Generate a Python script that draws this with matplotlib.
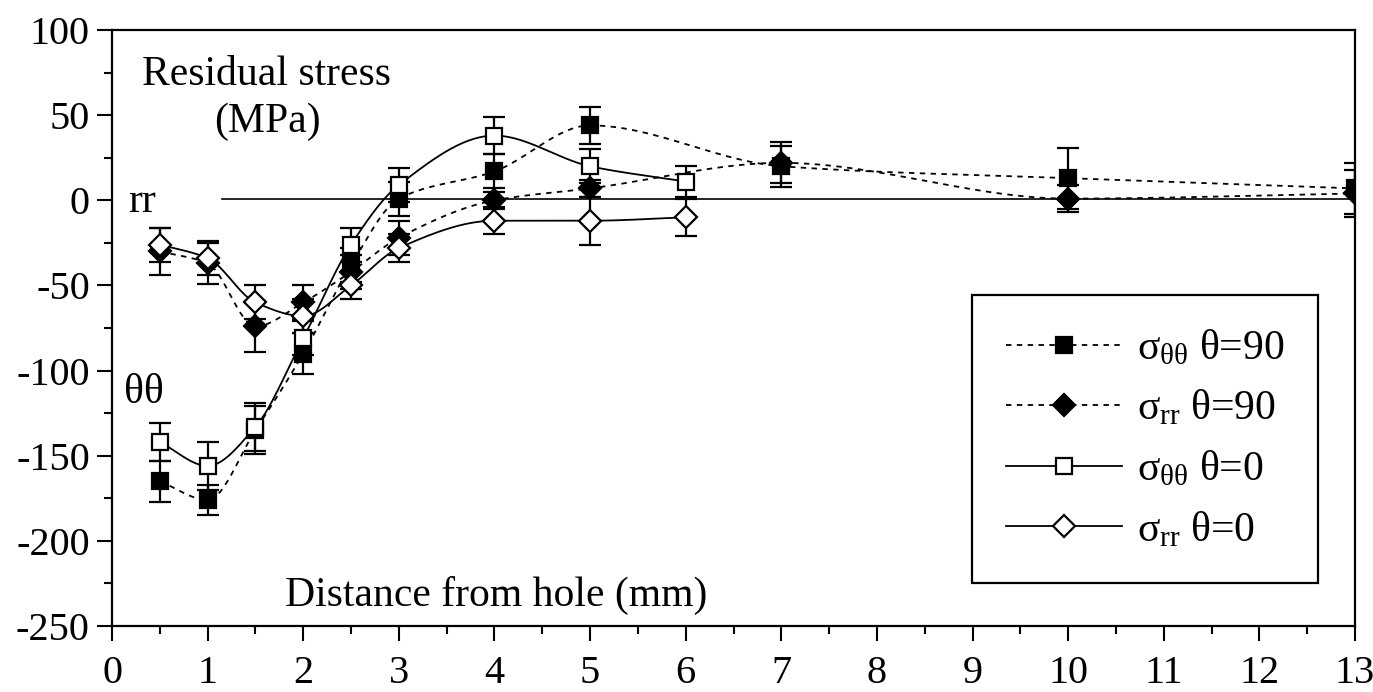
import numpy as np
import matplotlib
matplotlib.use("Agg")
import matplotlib.pyplot as plt
from matplotlib.lines import Line2D
from matplotlib.ticker import MultipleLocator

plt.rcParams['font.family'] = ['Liberation Serif', 'DejaVu Serif']
plt.rcParams['mathtext.fontset'] = 'custom'
plt.rcParams['mathtext.rm'] = 'Liberation Serif'
plt.rcParams['mathtext.it'] = 'Liberation Serif:italic'
plt.rcParams['axes.unicode_minus'] = False

# distance from hole (mm)
x90 = [0.5, 1, 1.5, 2, 2.5, 3, 4, 5, 7, 10, 13]
x0 = [0.5, 1, 1.5, 2, 2.5, 3, 4, 5, 6]

# residual stress (MPa) and error bars
tt90 = [-165, -176, -135, -90, -38, 1, 17, 44, 20, 13, 7]
tt90_err = [12, 9, 14, 12, 10, 10, 10, 11, 12, 18, 15]
rr90 = [-30, -37, -74, -60, -42, -22, 0, 7, 22, 1, 4]
rr90_err = [14, 12, 15, 10, 10, 10, 5, 5, 12, 8, 14]
tt0 = [-142, -156, -133, -81, -26, 9, 38, 20, 11]
tt0_err = [11, 14, 14, 10, 10, 10, 11, 10, 9]
rr0 = [-26, -34, -60, -68, -50, -28, -12, -12, -10]
rr0_err = [10, 10, 10, 10, 8, 8, 8, 14, 11]

labels = [r'$\mathrm{σ}_{\mathrm{θθ}}$ θ=90', r'$\mathrm{σ}_{\mathrm{rr}}$ θ=90',
          r'$\mathrm{σ}_{\mathrm{θθ}}$ θ=0', r'$\mathrm{σ}_{\mathrm{rr}}$ θ=0']


def smooth(x, y, n=300):
    # monotone cubic (pchip) curve through the points
    x = np.asarray(x, float)
    y = np.asarray(y, float)
    h = np.diff(x)
    delta = np.diff(y) / h
    m = np.zeros(len(x))
    m[0] = delta[0]
    m[-1] = delta[-1]
    for k in range(1, len(x) - 1):
        if delta[k - 1] * delta[k] > 0:
            w1 = 2 * h[k] + h[k - 1]
            w2 = h[k] + 2 * h[k - 1]
            m[k] = (w1 + w2) / (w1 / delta[k - 1] + w2 / delta[k])
    xs = np.linspace(x[0], x[-1], n)
    i = np.clip(np.searchsorted(x, xs) - 1, 0, len(x) - 2)
    t = (xs - x[i]) / h[i]
    h00 = 2 * t ** 3 - 3 * t ** 2 + 1
    h10 = t ** 3 - 2 * t ** 2 + t
    h01 = -2 * t ** 3 + 3 * t ** 2
    h11 = t ** 3 - t ** 2
    ys = h00 * y[i] + h10 * h[i] * m[i] + h01 * y[i + 1] + h11 * h[i] * m[i + 1]
    return xs, ys


fig = plt.figure(figsize=(13.73, 6.92), dpi=100)
ax = fig.add_axes([0.0816, 0.0954, 0.9053, 0.8612])

ax.plot([1.15, 13], [1, 1], color='black', lw=1.2)

series = [
    (x90, tt90, tt90_err, 's', 'black', (0, (3, 3))),
    (x90, rr90, rr90_err, 'D', 'black', (0, (3, 3))),
    (x0, tt0, tt0_err, 's', 'white', '-'),
    (x0, rr0, rr0_err, 'D', 'white', '-'),
]
handles = []
for (xs, ys, es, mk, fc, ls), lab in zip(series, labels):
    sx, sy = smooth(xs, ys)
    ax.plot(sx, sy, color='black', lw=1.3, linestyle=ls)
    ms = 12 if mk == 's' else 11
    ax.errorbar(xs, ys, yerr=es, fmt=mk, ms=ms, mfc=fc, mec='black', mew=1.6,
                ecolor='black', elinewidth=1.6, capsize=8, capthick=1.8, zorder=3)
    handles.append(Line2D([], [], color='black', lw=1.3, linestyle=ls, marker=mk,
                          ms=ms, mfc=fc, mec='black', mew=1.6))

ax.set_xlim(0, 13)
ax.set_ylim(-250, 100)
ax.xaxis.set_major_locator(MultipleLocator(1))
ax.xaxis.set_minor_locator(MultipleLocator(0.5))
ax.yaxis.set_major_locator(MultipleLocator(50))
ax.yaxis.set_minor_locator(MultipleLocator(25))
ax.tick_params(which='major', direction='out', length=11, width=1.5, labelsize=29)
ax.tick_params(which='minor', direction='out', length=6, width=1.5)
ax.tick_params(axis='x', which='major', pad=10)
ax.tick_params(axis='y', which='major', pad=5)
for s in ax.spines.values():
    s.set_linewidth(1.6)

ax.text(1.62, 68, 'Residual stress', fontsize=30, ha='center', va='baseline')
ax.text(1.63, 40, '(MPa)', fontsize=30, ha='center', va='baseline')
ax.text(0.17, -7, 'rr', fontsize=30, va='baseline')
ax.text(0.13, -119, 'θθ', fontsize=30, va='baseline')
ax.text(1.81, -238, 'Distance from hole (mm)', fontsize=30, va='baseline')

leg = ax.legend(handles, labels, loc='upper left', bbox_to_anchor=(0.692, 0.555),
                borderaxespad=0, fontsize=30, numpoints=1, handlelength=2.8,
                handletextpad=0.35, labelspacing=0.5, borderpad=0.8,
                fancybox=False, framealpha=1, edgecolor='black')
leg.get_frame().set_linewidth(1.6)

fig.savefig('out.png', dpi=100)
